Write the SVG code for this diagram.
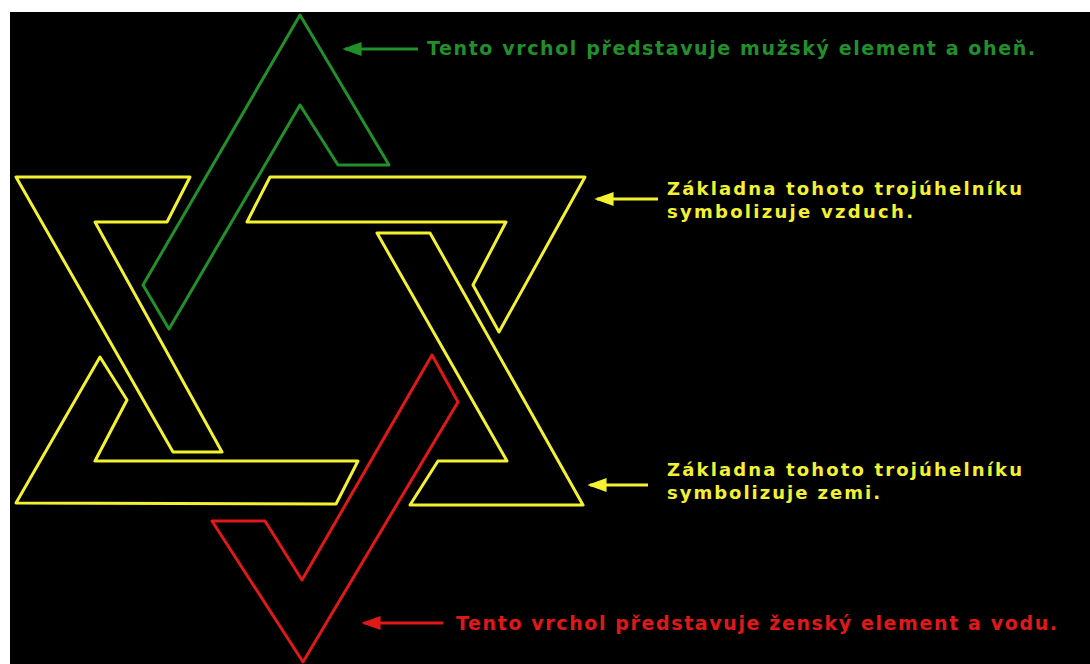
<svg xmlns="http://www.w3.org/2000/svg" width="1090" height="664" viewBox="0 0 1090 664">
<defs>
<style>
.y{fill:none;stroke:#f4f230;stroke-width:3;stroke-linejoin:round}
.g{fill:none;stroke:#22902a;stroke-width:3;stroke-linejoin:round}
.r{fill:none;stroke:#e01818;stroke-width:3;stroke-linejoin:round}
.t{font-family:"DejaVu Sans",Verdana,sans-serif;font-weight:bold}
</style>
<marker id="ag" viewBox="0 0 14 10" refX="12" refY="5" markerWidth="6.5" markerHeight="4.6" orient="auto" markerUnits="strokeWidth"><path d="M0,0 L14,5 L0,10 Z" fill="#22902a"/></marker>
<marker id="ay" viewBox="0 0 14 10" refX="12" refY="5" markerWidth="6.5" markerHeight="4.6" orient="auto" markerUnits="strokeWidth"><path d="M0,0 L14,5 L0,10 Z" fill="#f4f230"/></marker>
<marker id="ar" viewBox="0 0 14 10" refX="12" refY="5" markerWidth="6.5" markerHeight="4.6" orient="auto" markerUnits="strokeWidth"><path d="M0,0 L14,5 L0,10 Z" fill="#e01818"/></marker>
</defs>
<rect x="0" y="0" width="1090" height="664" fill="#ffffff"/>
<rect x="10" y="12" width="1080" height="652" fill="#000000"/>

<g id="star">
<g id="top-left-yellow"><polygon class="y" points="16,177 190,177 167,222 95,222 222,452 173,452"/></g>
<g id="top-right-yellow"><polygon class="y" points="247,222 270,177 585,177 499,332 473,285 506,222"/></g>
<g id="bottom-left-yellow"><polygon class="y" points="100,357 127,400 95,461 358,461 336,504 16,503"/></g>
<g id="bottom-right-yellow"><polygon class="y" points="377,233 430,233 583,505 410,505 438,461 507,461"/></g>
<g id="green-apex"><polygon class="g" points="300,15 389,165 338,165 300,105 169,329 143,285"/></g>
<g id="red-apex"><polygon class="r" points="432,355 458,402 303,662 212,521 265,521 302,580"/></g>
</g>

<g id="connectors">
<line x1="418" y1="49" x2="345" y2="49" stroke="#22902a" stroke-width="3" marker-end="url(#ag)"/>
<line x1="658" y1="199" x2="597" y2="199" stroke="#f4f230" stroke-width="3" marker-end="url(#ay)"/>
<line x1="648" y1="485" x2="590" y2="485" stroke="#f4f230" stroke-width="3" marker-end="url(#ay)"/>
<line x1="443" y1="623" x2="364" y2="623" stroke="#e01818" stroke-width="3" marker-end="url(#ar)"/>
</g>

<g id="labels">
<text class="t" x="427" y="55" font-size="19" fill="#22902a" textLength="608" lengthAdjust="spacing">Tento vrchol představuje mužský element a oheň.</text>
<text class="t" x="667" y="195" font-size="18" fill="#f4f230" textLength="355" lengthAdjust="spacing">Základna tohoto trojúhelníku</text>
<text class="t" x="667" y="218" font-size="18" fill="#f4f230" textLength="246" lengthAdjust="spacing">symbolizuje vzduch.</text>
<text class="t" x="667" y="476" font-size="18" fill="#f4f230" textLength="355" lengthAdjust="spacing">Základna tohoto trojúhelníku</text>
<text class="t" x="667" y="499" font-size="18" fill="#f4f230" textLength="213" lengthAdjust="spacing">symbolizuje zemi.</text>
<text class="t" x="456" y="630" font-size="19" fill="#e01818" textLength="601" lengthAdjust="spacing">Tento vrchol představuje ženský element a vodu.</text>
</g>
</svg>
